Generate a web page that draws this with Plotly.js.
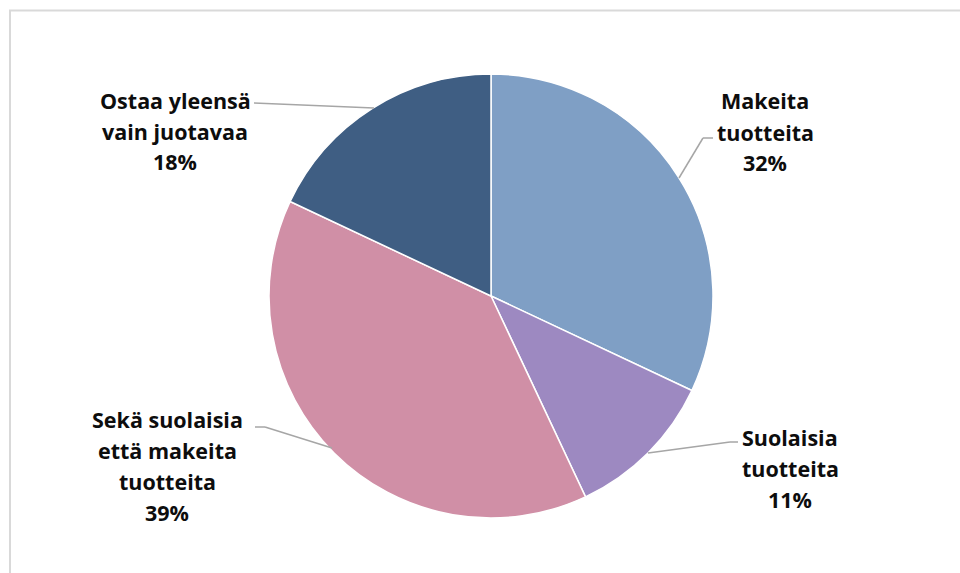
<!DOCTYPE html>
<html>
<head>
<meta charset="utf-8">
<script src="https://cdn.plot.ly/plotly-3.0.1.min.js"></script>
<style>html,body{margin:0;padding:0;background:#fff;}#chart{width:960px;height:573px;}</style>
</head>
<body>
<div id="chart"></div>
<script>
// Data
const categories = ["Makeita tuotteita", "Suolaisia tuotteita", "Sekä suolaisia että makeita tuotteita", "Ostaa yleensä vain juotavaa"];
const values = [32, 11, 39, 18];
const labelLines = [
  ["Makeita", "tuotteita", "32%"],
  ["Suolaisia", "tuotteita", "11%"],
  ["Sekä suolaisia", "että makeita", "tuotteita", "39%"],
  ["Ostaa yleensä", "vain juotavaa", "18%"]
];
const colors = ["#7F9FC5", "#9D89C1", "#D08FA6", "#3F5E83"];

// Layout helpers (pixel -> paper)
const W = 960, H = 573;
const px = x => x / W;
const py = y => 1 - y / H;

// label placement: center x, first line y, line step
const labelPos = [
  {x: 765, y: 101, step: 31},
  {x: 790, y: 437, step: 31},
  {x: 167, y: 419, step: 31},
  {x: 175, y: 100, step: 31}
];
// leader lines (polylines in pixels)
const leaders = [
  [[713, 138], [703, 138], [679, 178]],
  [[738, 442], [730, 442], [648, 453]],
  [[255, 427], [265, 427], [332, 448]],
  [[254, 103], [374, 108]]
];

const annotations = [];
labelLines.forEach((lines, i) => {
  lines.forEach((t, j) => {
    annotations.push({
      text: t, showarrow: false, xref: "paper", yref: "paper",
      x: px(labelPos[i].x), y: py(labelPos[i].y + j * labelPos[i].step),
      xanchor: "center", yanchor: "middle",
      font: {family: "Open Sans, sans-serif", size: 21.5, color: "#0d0d0d", weight: 700}
    });
  });
});

const shapes = [];
leaders.forEach(pts => {
  for (let k = 0; k < pts.length - 1; k++) {
    shapes.push({type: "line", xref: "paper", yref: "paper",
      x0: px(pts[k][0]), y0: py(pts[k][1]), x1: px(pts[k+1][0]), y1: py(pts[k+1][1]),
      line: {color: "#A6A6A6", width: 1.5}});
  }
});
// frame
shapes.push({type: "line", xref: "paper", yref: "paper", x0: px(10), y0: py(573), x1: px(10), y1: py(10.5), line: {color: "#D9D9D9", width: 2}});
shapes.push({type: "line", xref: "paper", yref: "paper", x0: px(9), y0: py(10.5), x1: px(960), y1: py(10.5), line: {color: "#D9D9D9", width: 2}});

const trace = {
  type: "pie",
  labels: categories,
  values: values,
  sort: false,
  direction: "clockwise",
  rotation: 0,
  textinfo: "none",
  hoverinfo: "label+percent",
  marker: {colors: colors, line: {color: "#ffffff", width: 1.5}},
  domain: {x: [px(269), px(713)], y: [py(518), py(74)]}
};

const layout = {
  width: W, height: H,
  margin: {l: 0, r: 0, t: 0, b: 0},
  showlegend: false,
  paper_bgcolor: "#ffffff",
  plot_bgcolor: "#ffffff",
  annotations: annotations,
  shapes: shapes
};

Plotly.newPlot("chart", [trace], layout, {displayModeBar: false, staticPlot: true});
</script>
</body>
</html>
